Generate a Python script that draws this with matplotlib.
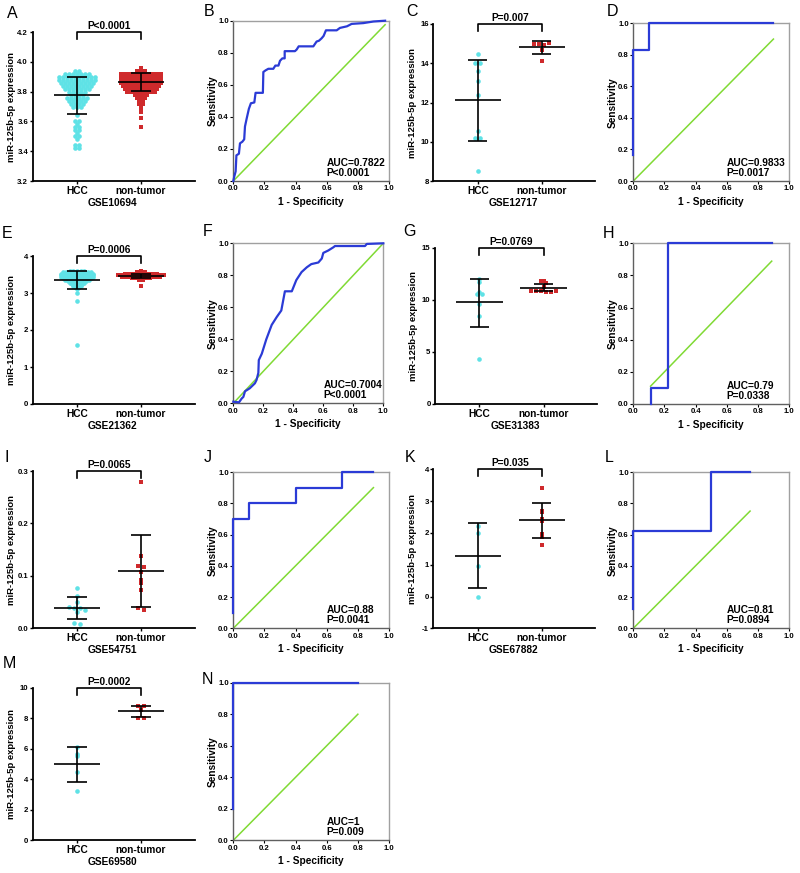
import numpy as np
import matplotlib
matplotlib.use("Agg")
import matplotlib.pyplot as plt
import matplotlib.transforms as mtransforms

plt.rcParams["font.family"] = ["Liberation Sans", "DejaVu Sans"]
plt.rcParams["font.weight"] = "bold"

# -----------------------------
# data
# -----------------------------
# A - GSE10694 (rows of values, count of dots per row)
a_hcc_vals = [3.94, 3.92, 3.90, 3.88, 3.86, 3.84, 3.82, 3.80, 3.78, 3.76, 3.74, 3.72, 3.70,
              3.64, 3.60, 3.58, 3.56, 3.54, 3.52, 3.50, 3.48, 3.44, 3.42]
a_hcc_counts = [2, 7, 10, 10, 9, 8, 7, 5, 4, 6, 5, 4, 3, 1, 2, 1, 2, 2, 1, 2, 1, 2, 2]
a_nt_vals = [3.96, 3.94, 3.92, 3.90, 3.88, 3.86, 3.84, 3.82, 3.80, 3.78, 3.76, 3.74, 3.72,
             3.70, 3.68, 3.66, 3.62, 3.56]
a_nt_counts = [1, 3, 11, 11, 11, 11, 10, 9, 8, 4, 3, 2, 2, 1, 1, 1, 1, 1]
a_mean = [3.775, 3.865]
a_sd_lo = [3.648, 3.805]
a_sd_hi = [3.895, 3.925]

# C - GSE12717
c_hcc = [14.45, 14.03, 14.0, 13.6, 13.1, 12.4, 10.55, 10.2, 10.2, 8.5]
c_nt = [15.0, 15.0, 14.95, 15.02, 14.7, 14.1]
c_mean = [12.13, 14.81]
c_sd_lo = [10.04, 14.45]
c_sd_hi = [14.15, 15.15]

# E - GSE21362
e_hcc_vals = [3.60, 3.56, 3.52, 3.48, 3.44, 3.40, 3.36, 3.32, 3.28, 3.24, 3.20, 3.16, 3.12,
              3.01, 2.78, 1.59]
e_hcc_counts = [5, 9, 10, 10, 10, 9, 8, 6, 5, 4, 3, 2, 1, 1, 1, 1]
e_nt_vals = [3.60, 3.56, 3.52, 3.48, 3.44, 3.40, 3.36, 3.20]
e_nt_counts = [1, 3, 10, 14, 12, 6, 2, 1]
e_mean = [3.36, 3.46]
e_sd_lo = [3.10, 3.41]
e_sd_hi = [3.60, 3.52]

# G - GSE31383
g_hcc = [12.05, 11.7, 10.75, 10.6, 10.55, 9.6, 8.5, 4.35]
g_nt = [11.85, 11.8, 11.65, 11.25, 10.9, 10.85, 10.85, 10.8, 10.8, 10.85]
g_mean = [9.76, 11.14]
g_sd_lo = [7.44, 10.88]
g_sd_hi = [12.04, 11.53]

# I - GSE54751
i_hcc = [0.077, 0.062, 0.051, 0.040, 0.038, 0.038, 0.034, 0.032, 0.010, 0.009]
i_nt = [0.279, 0.138, 0.119, 0.117, 0.108, 0.092, 0.086, 0.073, 0.038, 0.034]
i_mean = [0.0387, 0.109]
i_sd_lo = [0.017, 0.040]
i_sd_hi = [0.060, 0.178]

# K - GSE67882
k_hcc = [2.22, 2.0, 0.96, -0.03]
k_nt = [3.40, 2.69, 2.67, 2.45, 2.38, 1.97, 1.86, 1.62]
k_mean = [1.27, 2.39]
k_sd_lo = [0.26, 1.83]
k_sd_hi = [2.30, 2.93]

# M - GSE69580
m_hcc = [6.09, 5.66, 5.52, 4.45, 3.25]
m_nt = [8.8, 8.8, 8.54, 8.03, 8.03]
m_mean = [5.0, 8.47]
m_sd_lo = [3.85, 8.10]
m_sd_hi = [6.14, 8.82]

# ROC curves
b_fpr = [0, 0.006, 0.015, 0.02, 0.036, 0.043, 0.058, 0.07, 0.075, 0.086, 0.1, 0.113, 0.135,
         0.143, 0.19, 0.193, 0.207, 0.225, 0.257, 0.27, 0.29, 0.3, 0.315, 0.33, 0.33, 0.396,
         0.407, 0.42, 0.514, 0.535, 0.55, 0.567, 0.58, 0.595, 0.664, 0.685, 0.73, 0.76,
         0.835, 0.9, 0.975]
b_tpr = [0, 0.027, 0.06, 0.16, 0.17, 0.235, 0.245, 0.26, 0.34, 0.39, 0.45, 0.485, 0.49,
         0.55, 0.55, 0.68, 0.69, 0.70, 0.70, 0.72, 0.72, 0.75, 0.765, 0.765, 0.81, 0.81,
         0.82, 0.84, 0.84, 0.87, 0.875, 0.89, 0.905, 0.94, 0.94, 0.955, 0.965, 0.98,
         0.985, 0.995, 1.0]
d_fpr = [0, 0, 0.1, 0.1, 0.9]
d_tpr = [0.167, 0.833, 0.833, 1.0, 1.0]
f_fpr = [0, 0.038, 0.056, 0.067, 0.078, 0.11, 0.144, 0.155, 0.167, 0.17, 0.19, 0.22, 0.256,
         0.29, 0.32, 0.344, 0.39, 0.42, 0.455, 0.49, 0.52, 0.567, 0.59, 0.6, 0.633, 0.667,
         0.678, 0.878, 0.89, 1.0]
f_tpr = [0.01, 0.006, 0.03, 0.04, 0.075, 0.094, 0.125, 0.146, 0.19, 0.27, 0.31, 0.40, 0.49,
         0.54, 0.58, 0.70, 0.70, 0.77, 0.82, 0.85, 0.87, 0.88, 0.905, 0.94, 0.955, 0.975,
         0.983, 0.983, 0.996, 1.0]
h_fpr = [0.111, 0.111, 0.222, 0.222, 0.889]
h_tpr = [0, 0.1, 0.1, 1.0, 1.0]
j_fpr = [0, 0, 0.1, 0.1, 0.4, 0.4, 0.7, 0.7, 0.9]
j_tpr = [0.1, 0.7, 0.7, 0.8, 0.8, 0.9, 0.9, 1.0, 1.0]
l_fpr = [0, 0, 0.5, 0.5, 0.75]
l_tpr = [0.125, 0.625, 0.625, 1.0, 1.0]
n_fpr = [0, 0, 0.8]
n_tpr = [0.2, 1.0, 1.0]

W, H = 800, 873
CYAN = "#5fe2e6"
RED = "#cf2a2c"
BLUE = "#2b3bd6"
GREEN = "#80da34"

fig = plt.figure(figsize=(W / 100, H / 100), dpi=100)


def add_ax(l, t, r, b):
    return fig.add_axes([l / W, 1 - b / H, (r - l) / W, (b - t) / H])


def shift(ax, dx, dy):
    # axes fraction plus an offset in pixels
    return ax.transAxes + mtransforms.ScaledTranslation(dx / 100, dy / 100, fig.dpi_scale_trans)


def swarm(vals, center, ybin, dx):
    vals = np.asarray(vals, dtype=float)
    keys = np.round(vals / ybin).astype(int)
    xs = np.zeros(len(vals))
    for k in np.unique(keys):
        idx = np.where(keys == k)[0]
        offs = (np.arange(len(idx)) - (len(idx) - 1) / 2) * dx
        xs[idx] = center + offs
    return xs


def letter(x, y, s):
    fig.text(x / W, 1 - y / H, s, fontsize=11.5, fontweight="normal", ha="center", va="center")


def dot_panel(rect, hcc, nt, mean, lo, hi, ylim, yticks, ylabels, ptxt, gse, ybin, dx=0.065):
    l, t, r, b = rect
    h = b - t
    ax = add_ax(l, t, r, b)
    unit = 64.0
    ax.set_xlim(1 - 44.5 / unit, 2 + (r - l - 108.5) / unit)
    ax.set_ylim(*ylim)
    for pos, vals, col, mk, sz in ((1, hcc, CYAN, "o", 11), (2, nt, RED, "s", 9)):
        xs = swarm(vals, pos, ybin, dx)
        ax.scatter(xs, vals, s=sz, c=col, marker=mk, linewidths=0, zorder=2, clip_on=False)
    for i, pos in enumerate((1, 2)):
        kw = dict(color="black", lw=1.2, zorder=3, solid_capstyle="butt")
        ax.plot([pos - 0.36, pos + 0.36], [mean[i], mean[i]], **kw)
        ax.plot([pos - 0.15, pos + 0.15], [lo[i], lo[i]], **kw)
        ax.plot([pos - 0.15, pos + 0.15], [hi[i], hi[i]], **kw)
        ax.plot([pos, pos], [lo[i], hi[i]], **kw)

    # significance bracket
    tr = mtransforms.blended_transform_factory(ax.transData, ax.transAxes)
    tk = 7.0 / h
    ax.plot([1, 1, 2, 2], [1 - tk, 1, 1, 1 - tk], transform=tr, color="black", lw=1.2,
            clip_on=False)
    ax.text(1.5, 1.0 + 1.0 / h, ptxt, transform=tr, ha="center", va="bottom", fontsize=7.3)

    for s in ("top", "right"):
        ax.spines[s].set_visible(False)
    for s in ("left", "bottom"):
        ax.spines[s].set_linewidth(1.3)
    ax.set_yticks(yticks)
    ax.set_yticklabels(ylabels)
    ax.set_xticks([1, 2])
    ax.set_xticklabels(["HCC", "non-tumor"])
    ax.tick_params(axis="y", direction="out", length=2.2, width=1, labelsize=5.6, pad=1)
    ax.tick_params(axis="x", direction="out", length=2.2, width=1, labelsize=7.3, pad=1.5)
    ax.text(0, 0.5, "miR-125b-5p expression", transform=shift(ax, -21, 0), rotation=90,
            ha="center", va="center", fontsize=6.8)
    if gse:
        ax.text(1.56, 0, gse, transform=mtransforms.blended_transform_factory(
            ax.transData, shift(ax, 0, -22)), ha="center", va="center", fontsize=7.3)
    return ax


def roc_panel(rect, fpr, tpr, diag, auc, ptxt):
    l, t, r, b = rect
    ax = add_ax(l, t, r, b)
    ax.set_xlim(0, 1)
    ax.set_ylim(0, 1)
    ax.plot(diag, diag, color=GREEN, lw=1.1, zorder=2)
    ax.plot(fpr, tpr, color=BLUE, lw=1.6, zorder=3, clip_on=False)
    for s in ("top", "right"):
        ax.spines[s].set_color("#a0a0a0")
        ax.spines[s].set_linewidth(1.0)
    for s in ("left", "bottom"):
        ax.spines[s].set_color("#606060")
        ax.spines[s].set_linewidth(1.0)
    ticks = [0.0, 0.2, 0.4, 0.6, 0.8, 1.0]
    ax.set_xticks(ticks)
    ax.set_yticks(ticks)
    ax.set_xticklabels([f"{v:.1f}" for v in ticks])
    ax.set_yticklabels([f"{v:.1f}" for v in ticks])
    ax.tick_params(direction="out", length=2, width=0.8, labelsize=5.6, pad=1.2)
    ax.text(0.6, 0.115, auc, transform=ax.transAxes, ha="left", va="center", fontsize=7.3)
    ax.text(0.6, 0.05, ptxt, transform=ax.transAxes, ha="left", va="center", fontsize=7.3)
    ax.text(0, 0.5, "Sensitivity", transform=shift(ax, -21, 0), rotation=90,
            ha="center", va="center", fontsize=7.3)
    ax.text(0.5, 0, "1 - Specificity", transform=shift(ax, 0, -21),
            ha="center", va="center", fontsize=7.3)
    return ax


# row 1
dot_panel((32.5, 32, 194.5, 181), np.repeat(a_hcc_vals, a_hcc_counts),
          np.repeat(a_nt_vals, a_nt_counts), a_mean, a_sd_lo, a_sd_hi,
          (3.2, 4.2), [3.2, 3.4, 3.6, 3.8, 4.0, 4.2], ["3.2", "3.4", "3.6", "3.8", "4.0", "4.2"],
          "P<0.0001", "GSE10694", 0.02, dx=0.062)
roc_panel((233.3, 20.7, 389, 181), b_fpr, b_tpr, [0, 0.975], "AUC=0.7822", "P<0.0001")
dot_panel((433.3, 24, 595.3, 181), c_hcc, c_nt, c_mean, c_sd_lo, c_sd_hi,
          (8, 16), [8, 10, 12, 14, 16], ["8", "10", "12", "14", "16"],
          "P=0.007", "GSE12717", 0.2, dx=0.08)
roc_panel((633.3, 23.3, 789, 181), d_fpr, d_tpr, [0, 0.9], "AUC=0.9833", "P=0.0017")

# row 2
dot_panel((32.5, 256, 194.5, 404), np.repeat(e_hcc_vals, e_hcc_counts),
          np.repeat(e_nt_vals, e_nt_counts), e_mean, e_sd_lo, e_sd_hi,
          (0, 4), [0, 1, 2, 3, 4], ["0", "1", "2", "3", "4"],
          "P=0.0006", "GSE21362", 0.04, dx=0.055)
roc_panel((233.3, 243.3, 383.3, 403.3), f_fpr, f_tpr, [0, 1.0], "AUC=0.7004", "P<0.0001")
dot_panel((435, 248, 597, 404), g_hcc, g_nt, g_mean, g_sd_lo, g_sd_hi,
          (0, 15), [0, 5, 10, 15], ["0", "5", "10", "15"],
          "P=0.0769", "GSE31383", 0.375, dx=0.08)
roc_panel((633.3, 243.3, 789, 404), h_fpr, h_tpr, [0.111, 0.889], "AUC=0.79", "P=0.0338")

# row 3
dot_panel((32.5, 471, 194.5, 628.3), i_hcc, i_nt, i_mean, i_sd_lo, i_sd_hi,
          (0, 0.3), [0, 0.1, 0.2, 0.3], ["0.0", "0.1", "0.2", "0.3"],
          "P=0.0065", "GSE54751", 0.0075, dx=0.08)
roc_panel((233.3, 472, 389, 628.3), j_fpr, j_tpr, [0, 0.9], "AUC=0.88", "P=0.0041")
dot_panel((433.3, 469.3, 595.3, 628.3), k_hcc, k_nt, k_mean, k_sd_lo, k_sd_hi,
          (-1, 4), [-1, 0, 1, 2, 3, 4], ["-1", "0", "1", "2", "3", "4"],
          "P=0.035", "GSE67882", 0.125, dx=0.08)
roc_panel((633.3, 472, 789, 628.3), l_fpr, l_tpr, [0, 0.75], "AUC=0.81", "P=0.0894")

# row 4
dot_panel((32.5, 687.7, 194.5, 840.3), m_hcc, m_nt, m_mean, m_sd_lo, m_sd_hi,
          (0, 10), [0, 2, 4, 6, 8, 10], ["0", "2", "4", "6", "8", "10"],
          "P=0.0002", "GSE69580", 0.25, dx=0.1)
roc_panel((233.3, 682.7, 389, 840.3), n_fpr, n_tpr, [0, 0.8], "AUC=1", "P=0.009")

# panel letters
for s, x, y in (("A", 12, 13), ("B", 209, 12), ("C", 412, 11), ("D", 612, 12),
                ("E", 7, 234), ("F", 208, 232), ("G", 409, 232), ("H", 609, 233),
                ("I", 7, 457), ("J", 208, 458), ("K", 410, 457), ("L", 609, 458),
                ("M", 9, 664), ("N", 207, 679)):
    letter(x, y, s)

fig.savefig("out.png", dpi=100)
